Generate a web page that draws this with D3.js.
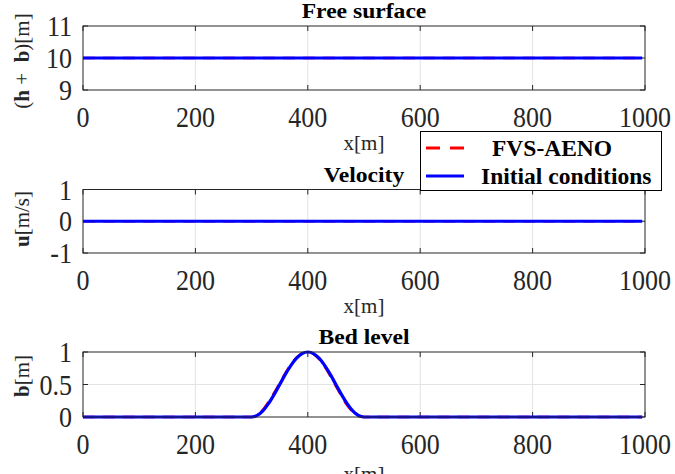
<!DOCTYPE html>
<html><head><meta charset="utf-8">
<script src="https://cdn.jsdelivr.net/npm/d3@7"></script>
<style>body{margin:0;background:#fff}svg{display:block}</style>
</head><body>
<script>
// ---- data ----
const xTicks = [0, 200, 400, 600, 800, 1000];
const flatX = [0, 995];
const etaInit = [10, 10];
const etaFVS = [10, 10];
const uInit = [0, 0];
const uFVS = [0, 0];
const bedX = [0, 300, 310, 320, 330, 340, 350, 360, 370, 380, 390, 400, 410, 420, 430, 440, 450, 460, 470, 480, 490, 500, 995];
const bedInit = [0, 0, 0.024, 0.095, 0.206, 0.345, 0.5, 0.655, 0.794, 0.905, 0.976, 1, 0.976, 0.905, 0.794, 0.655, 0.5, 0.345, 0.206, 0.095, 0.024, 0, 0];
const bedFVS = [0, 0, 0.03, 0.11, 0.23, 0.37, 0.52, 0.675, 0.81, 0.915, 0.982, 1, 0.97, 0.89, 0.775, 0.63, 0.475, 0.32, 0.18, 0.08, 0.015, 0, 0];
const seriesNames = ["FVS-AENO", "Initial conditions"];

const W = 675, H = 474;
const svg = d3.select("body").append("svg").attr("width", W).attr("height", H)
  .style("font-family", "'Liberation Serif','Times New Roman',serif");

const x = d3.scaleLinear().domain([0, 1000]).range([83, 645]);

const panels = [
  {top: 26, bottom: 90, domain: [9, 11], yticks: [9, 10, 11], fmt: d => d, title: "Free surface",
   ylab: [["(", "normal"], ["h", "bold"], [" +\u00a0\u00a0", "normal"], ["b", "bold"], [")[m]", "normal"]], ylabY: 61,
   xs: flatX, red: etaFVS, blue: etaInit, xlabY: 150},
  {top: 189.5, bottom: 253, domain: [-1, 1], yticks: [-1, 0, 1], fmt: d => d, title: "Velocity",
   ylab: [["u", "bold"], ["[m/s]", "normal"]], ylabY: 219,
   xs: flatX, red: uFVS, blue: uInit, xlabY: 313},
  {top: 352, bottom: 417, domain: [0, 1], yticks: [0, 0.5, 1], fmt: d => d, title: "Bed level",
   ylab: [["b", "bold"], ["[m]", "normal"]], ylabY: 376,
   xs: bedX, red: bedFVS, blue: bedInit, xlabY: 481}
];

panels.forEach(p => {
  const y = d3.scaleLinear().domain(p.domain).range([p.bottom, p.top]);
  const g = svg.append("g");
  const [x0, x1] = x.range();
  // grid
  g.selectAll(".gx").data(xTicks.slice(1, -1)).join("line")
    .attr("x1", d => x(d)).attr("x2", d => x(d)).attr("y1", p.top).attr("y2", p.bottom)
    .attr("stroke", "#e3e3e3").attr("stroke-width", 1);
  g.selectAll(".gy").data(p.yticks.slice(1, -1)).join("line")
    .attr("y1", d => y(d)).attr("y2", d => y(d)).attr("x1", x0).attr("x2", x1)
    .attr("stroke", "#e3e3e3").attr("stroke-width", 1);
  // ticks inside
  const tl = 5;
  g.selectAll(".tb").data(xTicks).join("line")
    .attr("x1", d => x(d)).attr("x2", d => x(d)).attr("y1", p.bottom).attr("y2", p.bottom - tl)
    .attr("stroke", "#262626");
  g.selectAll(".tt").data(xTicks).join("line")
    .attr("x1", d => x(d)).attr("x2", d => x(d)).attr("y1", p.top).attr("y2", p.top + tl)
    .attr("stroke", "#262626");
  g.selectAll(".tlft").data(p.yticks).join("line")
    .attr("y1", d => y(d)).attr("y2", d => y(d)).attr("x1", x0).attr("x2", x0 + tl)
    .attr("stroke", "#262626");
  g.selectAll(".trt").data(p.yticks).join("line")
    .attr("y1", d => y(d)).attr("y2", d => y(d)).attr("x1", x1).attr("x2", x1 - tl)
    .attr("stroke", "#262626");
  // lines
  const line = d3.line().x((d, i) => x(p.xs[i])).y(d => y(d)).curve(d3.curveMonotoneX);
  g.append("path").attr("d", line(p.red)).attr("fill", "none")
    .attr("stroke", "#ff0000").attr("stroke-width", 2.5).attr("stroke-dasharray", "12,8");
  g.append("path").attr("d", line(p.blue)).attr("fill", "none")
    .attr("stroke", "#0000ff").attr("stroke-width", 3.2);
  // box
  g.append("rect").attr("x", x0).attr("y", p.top).attr("width", x1 - x0).attr("height", p.bottom - p.top)
    .attr("fill", "none").attr("stroke", "#262626").attr("stroke-width", 1);
  // tick labels (slightly tall, like the reference)
  g.selectAll(".xl").data(xTicks).join("text")
    .attr("transform", d => `translate(${x(d)},${p.bottom + 37}) scale(1,1.12)`)
    .attr("text-anchor", "middle")
    .attr("font-size", 26).attr("fill", "#262626").text(d => d);
  g.selectAll(".yl").data(p.yticks).join("text")
    .attr("transform", d => `translate(72,${y(d) + 10}) scale(1,1.12)`)
    .attr("text-anchor", "end")
    .attr("font-size", 26).attr("fill", "#262626").text(p.fmt);
  // title (wide, short, like the reference)
  g.append("text").attr("transform", `translate(${(x0 + x1) / 2},${p.top - 8}) scale(1.18,1)`)
    .attr("text-anchor", "middle")
    .attr("font-size", 20).attr("font-weight", "bold").attr("fill", "#000").text(p.title);
  // x label
  g.append("text").attr("x", (x0 + x1) / 2).attr("y", p.xlabY).attr("text-anchor", "middle")
    .attr("font-size", 21).attr("fill", "#262626").text("x[m]");
  // y label
  const yt = g.append("text").attr("transform", `translate(29,${p.ylabY}) rotate(-90)`)
    .attr("text-anchor", "middle").attr("font-size", 21).attr("fill", "#262626");
  p.ylab.forEach(([s, w]) => yt.append("tspan").attr("font-weight", w).text(s));
});

// legend
const lg = svg.append("g");
lg.append("rect").attr("x", 420.5).attr("y", 131.5).attr("width", 241).attr("height", 59)
  .attr("fill", "#fff").attr("stroke", "#000").attr("stroke-width", 1);
const legY = [148, 176];
const legStyle = [{c: "#ff0000", dash: "14,10", w: 3, tx: 492}, {c: "#0000ff", dash: null, w: 3.2, tx: 481}];
seriesNames.forEach((n, i) => {
  lg.append("line").attr("x1", 426).attr("x2", 464).attr("y1", legY[i]).attr("y2", legY[i])
    .attr("stroke", legStyle[i].c).attr("stroke-width", legStyle[i].w)
    .attr("stroke-dasharray", legStyle[i].dash);
  lg.append("text").attr("x", legStyle[i].tx).attr("y", legY[i] + 8)
    .attr("font-size", 23.5).attr("font-weight", "bold").attr("fill", "#000").text(n);
});
</script>
</body></html>
